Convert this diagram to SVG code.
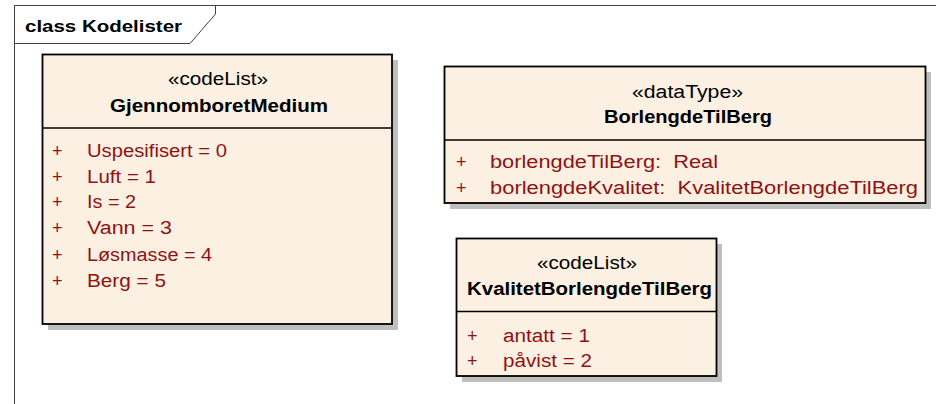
<svg xmlns="http://www.w3.org/2000/svg" width="936" height="404" viewBox="0 0 936 404">
  <style>
    .frame { fill: none; stroke: #404040; stroke-width: 1; }
    .shadow { fill: #bfbfbf; }
    .box { fill: #fbf0e2; stroke: #000; stroke-width: 1.8; }
    .sep { stroke: #000; stroke-width: 1.4; }
    text { font-family: "Liberation Sans", Arial, sans-serif; font-size: 18px; }
    .title { font-weight: bold; font-size: 17px; fill: #000; }
    .stereo { fill: #000; text-anchor: start; }
    .name { font-weight: bold; fill: #000; }
    .attr { fill: #8f1212; }
  </style>

  <!-- package frame with name tab -->
  <g id="frame">
    <path class="frame" d="M14.5,404 V5.5 H936"/>
    <path class="frame" d="M14.5,43.5 H190 L215.5,14 V5.5"/>
    <text class="title" x="25" y="32" textLength="157" lengthAdjust="spacingAndGlyphs">class Kodelister</text>
  </g>

  <!-- GjennomboretMedium -->
  <g id="GjennomboretMedium">
    <rect class="shadow" x="48" y="60" width="350" height="270"/>
    <rect class="box" x="42.5" y="54.5" width="349.5" height="269.5"/>
    <line class="sep" x1="42.5" y1="128" x2="392" y2="128"/>
    <text class="stereo" x="168" y="85" textLength="100" lengthAdjust="spacingAndGlyphs">«codeList»</text>
    <text class="name" x="110" y="112" textLength="218" lengthAdjust="spacingAndGlyphs">GjennomboretMedium</text>
    <g class="attr">
      <text x="52" y="157">+</text><text x="87" y="157" textLength="140" lengthAdjust="spacingAndGlyphs">Uspesifisert = 0</text>
      <text x="52" y="183">+</text><text x="87" y="183" textLength="69" lengthAdjust="spacingAndGlyphs">Luft = 1</text>
      <text x="52" y="208">+</text><text x="87" y="208" textLength="49" lengthAdjust="spacingAndGlyphs">Is = 2</text>
      <text x="52" y="234">+</text><text x="87" y="234" textLength="85" lengthAdjust="spacingAndGlyphs">Vann = 3</text>
      <text x="52" y="261">+</text><text x="87" y="261" textLength="125" lengthAdjust="spacingAndGlyphs">Løsmasse = 4</text>
      <text x="52" y="287">+</text><text x="87" y="287" textLength="79" lengthAdjust="spacingAndGlyphs">Berg = 5</text>
    </g>
  </g>

  <!-- BorlengdeTilBerg -->
  <g id="BorlengdeTilBerg">
    <rect class="shadow" x="450" y="72" width="481" height="137"/>
    <rect class="box" x="444.5" y="66.5" width="481" height="136.5"/>
    <line class="sep" x1="444.5" y1="140" x2="925.5" y2="140"/>
    <text class="stereo" x="632" y="98" textLength="111" lengthAdjust="spacingAndGlyphs">«dataType»</text>
    <text class="name" x="604" y="123" textLength="168" lengthAdjust="spacingAndGlyphs">BorlengdeTilBerg</text>
    <g class="attr">
      <text x="456" y="168">+</text><text x="490" y="168" xml:space="preserve" textLength="228" lengthAdjust="spacingAndGlyphs">borlengdeTilBerg:  Real</text>
      <text x="456" y="194">+</text><text x="490" y="194" xml:space="preserve" textLength="428" lengthAdjust="spacingAndGlyphs">borlengdeKvalitet:  KvalitetBorlengdeTilBerg</text>
    </g>
  </g>

  <!-- KvalitetBorlengdeTilBerg -->
  <g id="KvalitetBorlengdeTilBerg">
    <rect class="shadow" x="462" y="244" width="260" height="138"/>
    <rect class="box" x="456.5" y="238.5" width="260" height="137.5"/>
    <line class="sep" x1="456.5" y1="311.5" x2="716.5" y2="311.5"/>
    <text class="stereo" x="537" y="269" textLength="100" lengthAdjust="spacingAndGlyphs">«codeList»</text>
    <text class="name" x="467" y="295" textLength="245" lengthAdjust="spacingAndGlyphs">KvalitetBorlengdeTilBerg</text>
    <g class="attr">
      <text x="467" y="342">+</text><text x="503" y="342" textLength="87" lengthAdjust="spacingAndGlyphs">antatt = 1</text>
      <text x="467" y="367">+</text><text x="503" y="367" textLength="89" lengthAdjust="spacingAndGlyphs">påvist = 2</text>
    </g>
  </g>

  <!-- no associations in this package -->
  <g id="connectors"/>
</svg>
